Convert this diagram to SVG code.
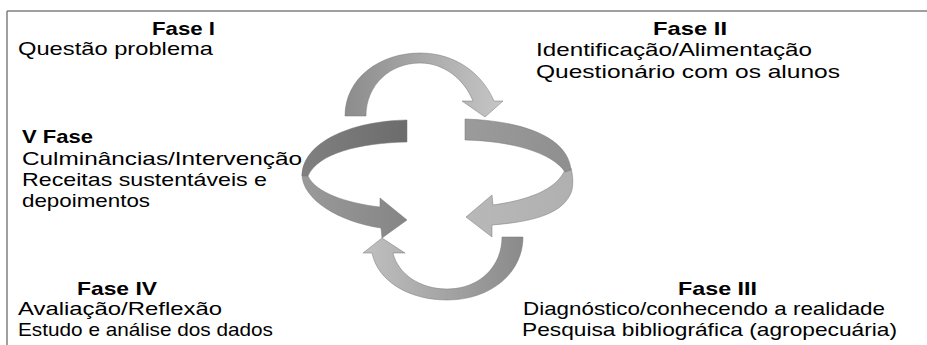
<svg xmlns="http://www.w3.org/2000/svg" width="927" height="345" viewBox="0 0 927 345">
<style>
text{font-family:"Liberation Sans",Arial,sans-serif;font-size:19px;fill:#000}
.h{font-weight:bold}
.frame{stroke:#808080;stroke-width:1.5;fill:none}
.arr{stroke:#777;stroke-width:0.5}
</style>
<defs>
<linearGradient id="gTop" x1="0" y1="0" x2="1" y2="0"><stop offset="0" stop-color="#8c8c8c"/><stop offset="1" stop-color="#c6c6c6"/></linearGradient>
<linearGradient id="gLU" x1="0" y1="0" x2="1" y2="0"><stop offset="0" stop-color="#808080"/><stop offset="1" stop-color="#6c6c6c"/></linearGradient>
<linearGradient id="gLL" x1="0" y1="0" x2="1" y2="0"><stop offset="0" stop-color="#9a9a9a"/><stop offset="1" stop-color="#858585"/></linearGradient>
<linearGradient id="gRU" x1="0" y1="0" x2="1" y2="0"><stop offset="0" stop-color="#9b9b9b"/><stop offset="1" stop-color="#8f8f8f"/></linearGradient>
<linearGradient id="gRL" x1="0" y1="0" x2="1" y2="0"><stop offset="0" stop-color="#b8b8b8"/><stop offset="1" stop-color="#b0b0b0"/></linearGradient>
<linearGradient id="gBot" x1="0" y1="0" x2="1" y2="0"><stop offset="0" stop-color="#c0c0c0"/><stop offset="1" stop-color="#8a8a8a"/></linearGradient>
</defs>
<rect width="927" height="345" fill="#fff"/>
<path class="frame" d="M7,11 H927 M7,11 V345"/>
<g id="connectors">
<path class="arr" fill="url(#gTop)" d="M345,116 C345,78 380,53 420,53 C455,53 482,73 494,101 L503,101 L485,117 L462,101 L473,101 C464,79 444,63 420,63 C390,63 366,85 366,116 Z"/>
<path class="arr" fill="url(#gLL)" d="M302,174 C302,200 340,222 381,228 L382,238 L407,220 L380,198 L380,207 C345,203 315,192 308,176 Z"/>
<path class="arr" fill="url(#gLU)" d="M407,120 C350,121 302,143 302,176 L308,176 C318,153 360,143 407,142 Z"/>
<path class="arr" fill="url(#gRL)" d="M565,170 L571,168 C574,180 573,190 570,195 C560,215 530,222 492,225 L492,237 L466,217 L492,195 L493,205 C528,200 556,190 565,170 Z"/>
<path class="arr" fill="url(#gRU)" d="M465,119 C525,121 568,138 571,170 L565,172 C552,152 510,141 465,140 Z"/>
<path class="arr" fill="url(#gBot)" d="M502,237 L523,237 C523,272 492,300 447,300 C410,300 378,282 372,253 L363,253 L382,238 L405,253 L393,253 C398,274 420,289 447,289 C480,289 502,266 502,237 Z"/>
</g>
<g id="fase1">
<text class="h" x="152" y="35" textLength="63" lengthAdjust="spacingAndGlyphs">Fase I</text>
<text x="18" y="55" textLength="195" lengthAdjust="spacingAndGlyphs">Questão problema</text>
</g>
<g id="fase2">
<text class="h" x="653" y="35" textLength="74" lengthAdjust="spacingAndGlyphs">Fase II</text>
<text x="536" y="56" textLength="276" lengthAdjust="spacingAndGlyphs">Identificação/Alimentação</text>
<text x="536" y="78" textLength="304" lengthAdjust="spacingAndGlyphs">Questionário com os alunos</text>
</g>
<g id="fase5">
<text class="h" x="22" y="143" textLength="71" lengthAdjust="spacingAndGlyphs">V Fase</text>
<text x="22" y="165" textLength="280" lengthAdjust="spacingAndGlyphs">Culminâncias/Intervenção</text>
<text x="22" y="186" textLength="245" lengthAdjust="spacingAndGlyphs">Receitas sustentáveis e</text>
<text x="22" y="207" textLength="128" lengthAdjust="spacingAndGlyphs">depoimentos</text>
</g>
<g id="fase4">
<text class="h" x="77" y="295" textLength="80" lengthAdjust="spacingAndGlyphs">Fase IV</text>
<text x="18" y="315" textLength="204" lengthAdjust="spacingAndGlyphs">Avaliação/Reflexão</text>
<text x="18" y="336" textLength="255" lengthAdjust="spacingAndGlyphs">Estudo e análise dos dados</text>
</g>
<g id="fase3">
<text class="h" x="678" y="295" textLength="79" lengthAdjust="spacingAndGlyphs">Fase III</text>
<text x="523" y="315" textLength="362" lengthAdjust="spacingAndGlyphs">Diagnóstico/conhecendo a realidade</text>
<text x="522" y="336" textLength="375" lengthAdjust="spacingAndGlyphs">Pesquisa bibliográfica (agropecuária)</text>
</g>
</svg>
